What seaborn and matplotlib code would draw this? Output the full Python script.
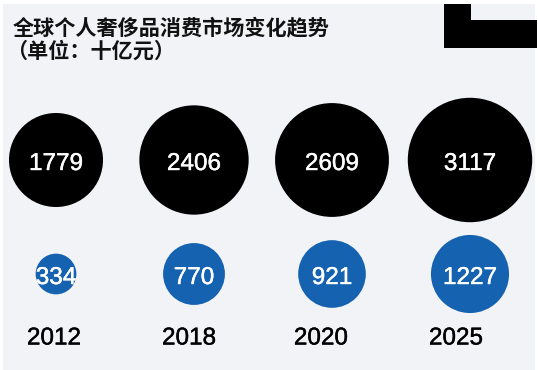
import matplotlib
matplotlib.use("Agg")
import matplotlib.pyplot as plt
from matplotlib.patches import Rectangle
from matplotlib.transforms import ScaledTranslation
import matplotlib.patheffects as pe
import seaborn as sns
import pandas as pd

# ---- data ----
years = ["2012", "2018", "2020", "2025"]
global_market = [1779, 2406, 2609, 3117]
china_market = [334, 770, 921, 1227]
title_line1 = "全球个人奢侈品消费市场变化趋势"
title_line2 = "（单位：十亿元）"

sns.set_theme(style="white")
plt.rcParams['font.family'] = ['Liberation Sans', 'DejaVu Sans']

W, H = 538, 370
DPI = 100
fig = plt.figure(figsize=(W / DPI, H / DPI), dpi=DPI)
fig.patch.set_facecolor("white")

def fx(px):
    return px / W

def fy(py):
    return 1 - py / H

# background panel
fig.patches.append(Rectangle((fx(3), fy(370)), fx(532), 366 / H, transform=fig.transFigure,
                             facecolor="#f2f3f7", edgecolor="none", zorder=0))
# black L-shaped block top-right
fig.patches.append(Rectangle((fx(444), fy(47.5)), fx(93), 27 / H, transform=fig.transFigure,
                             facecolor="black", edgecolor="none", zorder=1))
fig.patches.append(Rectangle((fx(444), fy(21)), fx(27), 17 / H, transform=fig.transFigure,
                             facecolor="black", edgecolor="none", zorder=1))

ax = fig.add_axes([0, 0, 1, 1])
ax.set_facecolor("none")
ax.set_zorder(5)

n = len(years)
df = pd.DataFrame({
    "x": list(range(n)) * 2,
    "row": [1] * n + [0] * n,
    "value": global_market + china_market,
    "series": ["global"] * n + ["china"] * n,
})

# area proportional to value: r = 47px for 1779
k = 47 / (1779 ** 0.5)
rmax_px = k * max(global_market) ** 0.5
smax = (2 * rmax_px * 72 / DPI) ** 2

sns.scatterplot(data=df, x="x", y="row", hue="series", size="value",
                sizes=(0, smax), size_norm=(0, max(global_market)),
                palette={"global": "#000000", "china": "#1462b0"},
                linewidth=0, legend=False, ax=ax, zorder=3)

# axis mapping: x px = 56 + 138*i ; y px(top) = 274 - 114*row
ax.set_xlim(-56 / 138, (W - 56) / 138)
ax.set_ylim((274 - H) / 114, 274 / 114)
ax.axis("off")

down = ScaledTranslation(0, -4 / DPI, fig.dpi_scale_trans)
for _, r in df.iterrows():
    ax.text(r["x"], r["row"], str(r["value"]), color="white", fontsize=17.5,
            ha="center", va="center", zorder=4, transform=ax.transData + down,
            path_effects=[pe.withStroke(linewidth=0.3, foreground="white")])

year_shift_px = [-2, -5, -11, -14]
year_row = (274 - 335.5) / 114
for i, y in enumerate(years):
    tr = ax.transData + ScaledTranslation(year_shift_px[i] / DPI, -3 / DPI, fig.dpi_scale_trans)
    ax.text(i, year_row, y, color="black", fontsize=17.5, ha="center", va="center",
            transform=tr,
            path_effects=[pe.withStroke(linewidth=0.3, foreground="black")])

cjk = ['Noto Sans CJK SC', 'DejaVu Sans']
fig.text(fx(13), fy(17), title_line1, family=cjk, fontweight="bold", fontsize=15.2,
         ha="left", va="top", color="#111111", zorder=6)
fig.text(fx(6), fy(41), title_line2, family=cjk, fontweight="bold", fontsize=15.2,
         ha="left", va="top", color="#111111", zorder=6)

fig.savefig("out.png", dpi=DPI, facecolor=fig.get_facecolor())
